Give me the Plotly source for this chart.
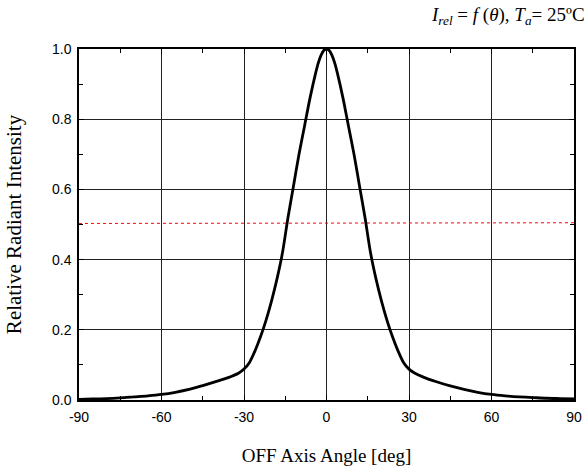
import plotly.graph_objects as go

angle = [-90, -85, -80, -75, -70, -65, -60, -55, -50, -45, -40, -35, -32, -30, -28, -26, -24, -22, -20,
         -18, -16, -14, -12, -10, -8, -6, -4, -3, -2, -1, 0,
         1, 2, 3, 4, 6, 8, 10, 12, 14, 16, 18, 20, 22, 24, 26, 28, 30, 32, 35, 40, 45, 50,
         55, 60, 65, 70, 75, 80, 85, 90]
intensity = [0.002, 0.003, 0.004, 0.006, 0.009, 0.012, 0.016, 0.022, 0.030, 0.041, 0.053, 0.066, 0.076,
             0.088, 0.107, 0.140, 0.180, 0.227, 0.282, 0.345, 0.42, 0.52, 0.61, 0.70, 0.78, 0.86, 0.93,
             0.96, 0.982, 0.996, 1.0,
             0.996, 0.982, 0.96, 0.93, 0.86, 0.78, 0.70, 0.61, 0.52, 0.42, 0.345, 0.282, 0.227, 0.180,
             0.140, 0.107, 0.088, 0.077, 0.066, 0.052, 0.040, 0.030, 0.022, 0.016, 0.012, 0.009, 0.007,
             0.005, 0.004, 0.003]

half_x = [-90, 90]
half_y = [0.503, 0.505]

x_ticks = [-90, -60, -30, 0, 30, 60, 90]
y_ticks = [0.0, 0.2, 0.4, 0.6, 0.8, 1.0]
y_labels = ["0.0", "0.2", "0.4", "0.6", "0.8", "1.0"]

fig = go.Figure()
fig.add_trace(go.Scatter(x=half_x, y=half_y, mode="lines",
                         line=dict(color="red", width=1, dash="dot"), hoverinfo="skip"))
fig.add_trace(go.Scatter(x=angle, y=intensity, mode="lines",
                         line=dict(color="black", width=2.8, shape="spline", smoothing=0.8)))

tick_font = dict(family="Liberation Sans, Arial, sans-serif", size=14, color="black")
title_font = dict(family="Liberation Serif, Times New Roman, serif", color="black")

fig.update_layout(
    width=585, height=468,
    margin=dict(l=79, r=11, t=49, b=68),
    paper_bgcolor="white", plot_bgcolor="white",
    showlegend=False,
    xaxis=dict(
        range=[-90, 90], tickvals=x_ticks, ticktext=[str(v) for v in x_ticks],
        automargin=False,
        showgrid=True, gridcolor="#222", gridwidth=1,
        zeroline=False, showline=True, linecolor="black", linewidth=1.5, mirror="allticks",
        ticks="inside", ticklen=5, tickcolor="black", tickwidth=1,
        minor=dict(dtick=15, tick0=-90, ticks="inside", ticklen=4, tickcolor="black", showgrid=False),
        tickfont=tick_font, ticklabelstandoff=3,
        title=dict(text="OFF Axis Angle [deg]", font=dict(size=19, **title_font), standoff=25),
    ),
    yaxis=dict(
        range=[0, 1.0], tickvals=y_ticks, ticktext=y_labels,
        automargin=False,
        showgrid=True, gridcolor="#222", gridwidth=1,
        zeroline=False, showline=True, linecolor="black", linewidth=1.5, mirror="allticks",
        ticks="inside", ticklen=5, tickcolor="black", tickwidth=1,
        minor=dict(dtick=0.1, tick0=0, ticks="inside", ticklen=4, tickcolor="black", showgrid=False),
        tickfont=tick_font, ticklabelstandoff=3,
        title=dict(text="Relative Radiant Intensity", font=dict(size=21, **title_font), standoff=25),
    ),
    annotations=[dict(
        xref="paper", yref="paper", x=1.0, y=1.0, xanchor="right", yanchor="bottom",
        xshift=13, yshift=19,
        showarrow=False,
        text="<i>I</i><sub><i>rel</i></sub> = <i>f</i> (<i>θ</i>), <i>T</i><sub><i>a</i></sub>= 25ºC",
        font=dict(family="Liberation Serif, Times New Roman, serif", size=19, color="black"),
    )],
)

fig.write_html("out.html", config={"displayModeBar": False},
               post_script="document.body.style.margin='0';")
